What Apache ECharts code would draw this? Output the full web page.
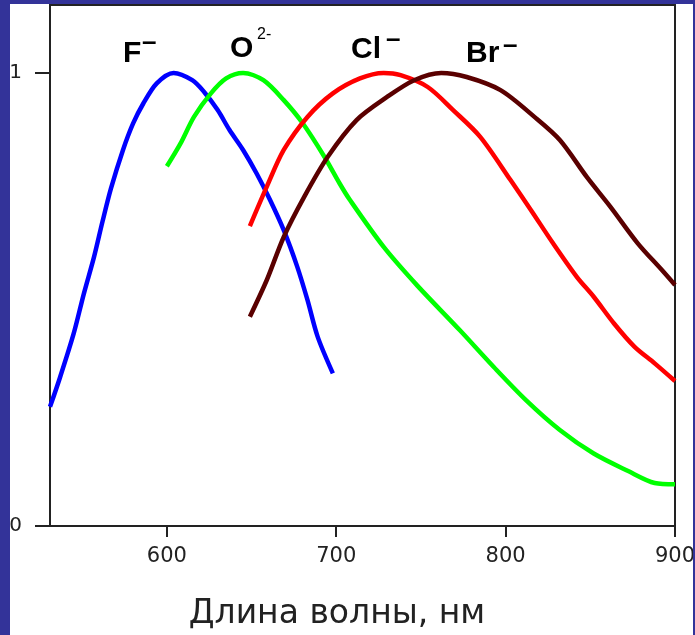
<!DOCTYPE html>
<html>
<head>
<meta charset="utf-8">
<script src="https://cdn.jsdelivr.net/npm/echarts@6/dist/echarts.min.js"></script>
<style>
html,body{margin:0;padding:0;background:#fff;}
#c{width:695px;height:635px;}
</style>
</head>
<body>
<div id="c"></div>
<script>
// Data (wavelength nm, normalized intensity)
const nmF  = [531, 537, 545, 551, 557, 562, 567, 574, 580, 586, 594, 604, 615, 622, 630, 637, 645, 653, 661, 669, 677, 683, 689, 698];
const valF = [0.263, 0.329, 0.425, 0.513, 0.594, 0.672, 0.745, 0.829, 0.888, 0.932, 0.977, 1.0, 0.984, 0.958, 0.918, 0.874, 0.830, 0.778, 0.719, 0.653, 0.572, 0.499, 0.418, 0.337];

const nmO  = [600, 608, 616, 626, 635, 645, 657, 669, 680, 693, 702, 708, 728, 748, 773, 793, 812, 832, 852, 872, 888, 900];
const valO = [0.794, 0.844, 0.903, 0.955, 0.988, 1.0, 0.984, 0.940, 0.890, 0.815, 0.756, 0.720, 0.616, 0.530, 0.432, 0.351, 0.278, 0.212, 0.160, 0.122, 0.095, 0.092];

const nmCl  = [649, 659, 669, 683, 698, 714, 728, 738, 754, 769, 785, 803, 815, 828, 842, 852, 864, 876, 888, 900];
const valCl = [0.662, 0.749, 0.830, 0.903, 0.955, 0.988, 1.0, 0.995, 0.969, 0.918, 0.859, 0.763, 0.697, 0.624, 0.550, 0.506, 0.447, 0.396, 0.359, 0.320];

const nmBr  = [649, 659, 669, 681, 695, 712, 730, 746, 762, 777, 797, 817, 832, 848, 862, 878, 892, 900];
const valBr = [0.462, 0.543, 0.638, 0.726, 0.815, 0.896, 0.947, 0.984, 1.0, 0.991, 0.962, 0.903, 0.852, 0.770, 0.704, 0.624, 0.566, 0.532];

const xTicks = [600, 700, 800, 900];
const yTicks = [0, 1];
const xTitle = 'Длина волны, нм';

const zip = (a, b) => a.map((v, i) => [v, b[i]]);

const chart = echarts.init(document.getElementById('c'), null, {renderer: 'canvas'});
const axisColor = '#222';
const labelFont = 'DejaVu Sans';
const bold = 'bold 30px "Liberation Sans", Arial, sans-serif';
const dash = 'bold 26px "Liberation Sans", Arial, sans-serif';

function mkLine(name, data, color) {
  return {
    name, type: 'line', data, showSymbol: false, smooth: 0.3,
    lineStyle: {width: 4.5, color}, itemStyle: {color}, animation: false
  };
}

chart.setOption({
  animation: false,
  backgroundColor: '#fff',
  grid: {left: 50, right: 20, top: 5, bottom: 109, containLabel: false, outerBoundsMode: 'none',
         show: true, borderColor: axisColor, borderWidth: 2, backgroundColor: 'transparent'},
  xAxis: {
    type: 'value', min: 531, max: 900,
    axisLine: {show: true, onZero: false, lineStyle: {color: axisColor, width: 2}},
    axisTick: {show: true, length: 11, customValues: xTicks, lineStyle: {color: axisColor, width: 2}},
    axisLabel: {customValues: xTicks, margin: 20, fontSize: 21, fontFamily: labelFont, color: '#222', hideOverlap: false},
    splitLine: {show: false}
  },
  yAxis: {
    type: 'value', min: 0, max: 1.15,
    axisLine: {show: true, lineStyle: {color: axisColor, width: 2}},
    axisTick: {show: true, length: 15, customValues: yTicks, lineStyle: {color: axisColor, width: 2}},
    axisLabel: {customValues: yTicks, margin: 28, fontSize: 20, fontFamily: labelFont, color: '#222'},
    splitLine: {show: false}
  },
  series: [
    mkLine('F-', zip(nmF, valF), '#0000ff'),
    mkLine('O2-', zip(nmO, valO), '#00ff00'),
    mkLine('Cl-', zip(nmCl, valCl), '#ff0000'),
    mkLine('Br-', zip(nmBr, valBr), '#5a0000')
  ],
  graphic: [
    {type: 'rect', z: 100, shape: {x: 0, y: 0, width: 10, height: 635}, style: {fill: '#333399'}},
    {type: 'rect', z: 100, shape: {x: 0, y: 0, width: 695, height: 4}, style: {fill: '#333399'}},
    {type: 'rect', z: 100, shape: {x: 693, y: 0, width: 2, height: 635}, style: {fill: '#333399'}},
    {type: 'text', z: 50, x: 123, y: 54, style: {text: 'F', font: bold, fill: '#000', align: 'left', verticalAlign: 'middle'}},
    {type: 'text', z: 50, x: 142, y: 43, style: {text: '–', font: dash, fill: '#000', align: 'left', verticalAlign: 'middle'}},
    {type: 'text', z: 50, x: 230, y: 49, style: {text: 'O', font: bold, fill: '#000', align: 'left', verticalAlign: 'middle'}},
    {type: 'text', z: 50, x: 257, y: 35, style: {text: '2-', font: '16px "Liberation Sans", Arial, sans-serif', fill: '#000', align: 'left', verticalAlign: 'middle'}},
    {type: 'text', z: 50, x: 351, y: 50, style: {text: 'Cl', font: bold, fill: '#000', align: 'left', verticalAlign: 'middle'}},
    {type: 'text', z: 50, x: 386, y: 40, style: {text: '–', font: dash, fill: '#000', align: 'left', verticalAlign: 'middle'}},
    {type: 'text', z: 50, x: 466, y: 54, style: {text: 'Br', font: bold, fill: '#000', align: 'left', verticalAlign: 'middle'}},
    {type: 'text', z: 50, x: 503, y: 46, style: {text: '–', font: dash, fill: '#000', align: 'left', verticalAlign: 'middle'}},
    {type: 'text', z: 50, x: 337, y: 614, style: {text: xTitle, font: '33px "DejaVu Sans", sans-serif', fill: '#222', align: 'center', verticalAlign: 'middle'}}
  ]
});
</script>
</body>
</html>
